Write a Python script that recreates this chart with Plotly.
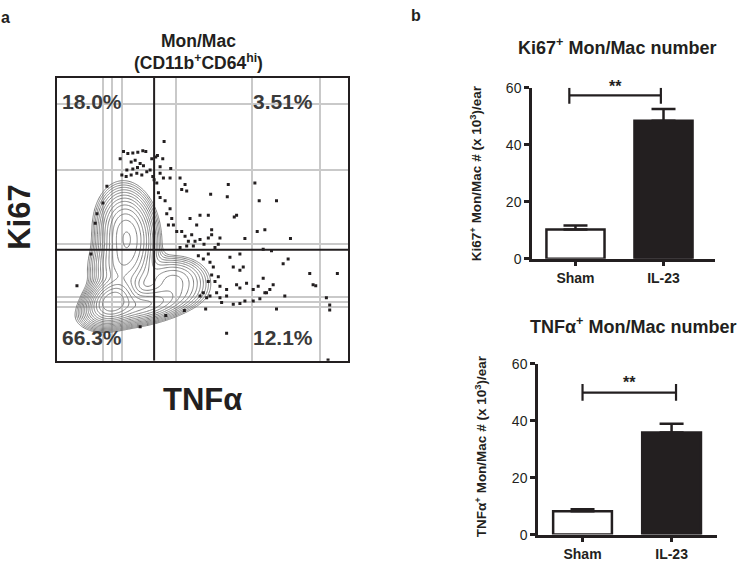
import numpy as np
import plotly.graph_objects as go

W, H = 740, 563
FONT = "Liberation Sans, Arial, sans-serif"
INK = "#231f20"

# ---------------- Panel a: flow cytometry (arbitrary channel units 0-875) ----------------
axis_max = 875
gate_x = 292          # TNFa quadrant gate
gate_y = 343          # Ki67 quadrant gate
grid_x = [139, 166, 196, 358, 586, 790]
grid_y = [793, 589, 361, 196, 181, 166]
quadrant_pct = ["18.0%", "3.51%", "66.3%", "12.1%"]

# density model of the main population (centres / spreads)
comp_mx = [165, 250, 350, 210, 190]
comp_my = [185, 170, 250, 390, 290]
comp_sx = [36, 75, 52, 40, 42]
comp_sy = [33, 30, 36, 64, 48]
comp_rho = [0.25, 0.45, 0.0, -0.1, 0.1]
comp_w = [1.0, 0.40, 0.18, 0.62, 0.30]

# individual outlier events
dot_x = [322, 200, 213, 228, 243, 258, 267, 190, 285, 297, 302, 318, 223, 235, 250, 242, 260, 228,
         210, 195, 208, 223, 240, 255, 270, 280, 288, 292, 300, 310, 342, 310, 320, 340, 370, 385,
         375, 390, 305, 310, 325, 340, 330, 345, 350, 335, 360, 375, 385, 405, 395, 415, 430, 442,
         455, 465, 490, 485, 475, 420, 400, 430, 455, 465, 515, 462, 512, 540, 533, 595, 608, 660,
         602, 625, 565, 702, 370, 390, 410, 150, 138, 120, 115, 102, 60,
         425, 440, 455, 460, 470, 465, 475, 490, 455, 440, 450, 430, 460, 480, 490, 495, 510, 520,
         550, 550, 560, 540, 550, 570, 590, 605, 620, 620, 630, 640, 650, 680, 695, 645, 760, 770,
         778, 843, 810, 820, 820, 530, 550, 590, 610, 625, 660, 685, 447, 383, 327, 250, 510, 815,
         565, 510, 485, 530]
dot_y = [678, 647, 641, 643, 645, 650, 647, 625, 625, 630, 635, 625, 615, 620, 610, 598, 603, 593,
         590, 575, 570, 575, 580, 575, 585, 590, 570, 560, 550, 600, 595, 580, 565, 565, 565, 545,
         530, 525, 520, 505, 495, 470, 455, 440, 420, 420, 400, 400, 385, 390, 370, 370, 375, 360,
         380, 390, 380, 360, 350, 420, 440, 450, 450, 405, 545, 515, 507, 450, 445, 550, 495, 495,
         400, 405, 378, 378, 350, 355, 355, 540, 488, 455, 425, 330, 232,
         325, 315, 330, 305, 290, 265, 245, 230, 245, 210, 195, 200, 200, 210, 195, 180, 200, 320,
         330, 280, 290, 235, 225, 240, 220, 230, 255, 345, 210, 220, 235, 300, 315, 340, 270, 235,
         232, 270, 195, 172, 157, 175, 177, 185, 192, 210, 160, 200, 160, 155, 140, 105, 85, 2,
         185, 220, 260, 290]

# ---------------- Panel b: bar charts ----------------
groups = ["Sham", "IL-23"]
ki67_mean = [10.2, 48.4]
ki67_sem = [1.4, 4.1]
tnf_mean = [8.2, 35.8]
tnf_sem = [0.7, 3.1]
ki67_sig = {"x0": -0.07, "x1": 0.97, "y": 57.3, "lo": 54.4, "hi": 60.0}
tnf_sig = {"x0": 0.0, "x1": 1.05, "y": 49.8, "lo": 47.0, "hi": 52.8}


def px(x):
    return x / W


def py(y):
    return 1 - y / H


fig = go.Figure()

# contour density
gx = np.linspace(0, axis_max, 260)
gy = np.linspace(0, axis_max, 260)
X, Y = np.meshgrid(gx, gy)
Z = np.zeros_like(X)
for mx, my, sx, sy, rho, w in zip(comp_mx, comp_my, comp_sx, comp_sy, comp_rho, comp_w):
    dx = (X - mx) / sx
    dy = (Y - my) / sy
    Z += w * np.exp(-(dx * dx - 2 * rho * dx * dy + dy * dy) / (2 * (1 - rho * rho)))
Z = np.log10(Z / Z.max() + 1e-12)

fig.add_trace(go.Contour(
    x=gx, y=gy, z=Z, xaxis="x", yaxis="y",
    contours=dict(start=-1.75, end=-0.04, size=0.115, coloring="lines"),
    colorscale=[[0, "#808080"], [1, "#808080"]], showscale=False,
    line=dict(width=1), hoverinfo="skip"))

fig.add_trace(go.Scatter(
    x=dot_x, y=dot_y, mode="markers", xaxis="x", yaxis="y",
    marker=dict(symbol="square", size=3, color=INK, line=dict(width=0)),
    showlegend=False, hoverinfo="skip"))

# bars
for mean, sem, xa, ya in [(ki67_mean, ki67_sem, "x2", "y2"), (tnf_mean, tnf_sem, "x3", "y3")]:
    fig.add_trace(go.Bar(
        x=groups, y=mean, xaxis=xa, yaxis=ya, width=0.66,
        marker=dict(color=["white", INK], line=dict(color=INK, width=2.5)),
        error_y=dict(type="data", array=sem, arrayminus=[0, 0], symmetric=False,
                     color=INK, thickness=2.5, width=12),
        showlegend=False))

shapes = []
# quadrant gates
shapes.append(dict(type="line", xref="x", yref="y", x0=gate_x, x1=gate_x, y0=0, y1=axis_max,
                   line=dict(color=INK, width=2), layer="above"))
shapes.append(dict(type="line", xref="x", yref="y", x0=0, x1=axis_max, y0=gate_y, y1=gate_y,
                   line=dict(color=INK, width=2), layer="above"))
# significance brackets
for sig, xa, ya in [(ki67_sig, "x2", "y2"), (tnf_sig, "x3", "y3")]:
    lw = dict(color=INK, width=2.2)
    shapes.append(dict(type="line", xref=xa, yref=ya, x0=sig["x0"], x1=sig["x1"],
                       y0=sig["y"], y1=sig["y"], line=lw))
    for xx in (sig["x0"], sig["x1"]):
        shapes.append(dict(type="line", xref=xa, yref=ya, x0=xx, x1=xx,
                           y0=sig["lo"], y1=sig["hi"], line=lw))

ann = []


def text(x, y, s, size, angle=0, color=INK):
    ann.append(dict(x=px(x), y=py(y), xref="paper", yref="paper", text=s, showarrow=False,
                    xanchor="center", yanchor="middle", textangle=angle,
                    font=dict(family=FONT, size=size, color=color)))


text(5, 10, "<b>a</b>", 16)
text(416, 8, "<b>b</b>", 16)
text(199, 34, "<b>Mon/Mac</b>", 17.5)
text(198, 56, "<b>(CD11b<sup>+</sup>CD64<sup>hi</sup>)</b>", 17.5)
text(20, 216, "<b>Ki67</b>", 31, angle=-90)
text(202, 403, "<b>TNFα</b>", 31)
for (x, y), s in zip([(92, 96), (283, 96), (92, 339), (283, 339)], quadrant_pct):
    text(x, y, "<b>%s</b>" % s, 21, color="#3a3a3a")

text(617, 40, "<b>Ki67<sup>+</sup> Mon/Mac number</b>", 18)
text(633, 327, "<b>TNFα<sup>+</sup> Mon/Mac number</b>", 18)
text(476, 170, "<b>Ki67<sup>+</sup> Mon/Mac # (x 10<sup>3</sup>)/ear</b>", 13.5, angle=-90)
text(481, 451, "<b>TNFα<sup>+</sup> Mon/Mac # (x 10<sup>3</sup>)/ear</b>", 13.5, angle=-90)
text(615, 81, "<b>**</b>", 16)
text(629, 385, "<b>**</b>", 16)

flow_axis = dict(range=[0, axis_max], showline=True, mirror=True, linecolor=INK, linewidth=2,
                 showgrid=True, gridcolor="#c9c9c9", gridwidth=1.5, zeroline=False,
                 ticks="", showticklabels=False, tickmode="array")

bar_y = dict(range=[0, 60], tickvals=[0, 20, 40, 60], showline=True, linecolor=INK, linewidth=2.5,
             ticks="outside", ticklen=5, tickwidth=2.5, tickcolor=INK, showgrid=False,
             zeroline=False, tickfont=dict(family=FONT, size=14, color=INK), tickprefix="<b>")
bar_x = dict(showline=True, linecolor=INK, linewidth=2.5, ticks="outside", ticklen=5,
             tickwidth=2.5, tickcolor=INK, showgrid=False, zeroline=False,
             tickfont=dict(family=FONT, size=14, color=INK), type="category", tickprefix="<b>")

fig.update_layout(
    width=W, height=H, autosize=False, margin=dict(l=0, r=0, t=0, b=0, pad=0),
    paper_bgcolor="white", plot_bgcolor="white", showlegend=False,
    font=dict(family=FONT, color=INK),
    xaxis=dict(flow_axis, domain=[px(57), px(348)], tickvals=grid_x, anchor="y"),
    yaxis=dict(flow_axis, domain=[py(363), py(72)], tickvals=grid_y, anchor="x"),
    xaxis2=dict(bar_x, domain=[px(532), px(715)], range=[-0.494, 1.585], anchor="y2"),
    yaxis2=dict(bar_y, domain=[py(258), py(82)], anchor="x2"),
    xaxis3=dict(bar_x, domain=[px(538), px(717)], range=[-0.5, 1.51], anchor="y3"),
    yaxis3=dict(bar_y, domain=[py(542), py(366)], anchor="x3"),
    shapes=shapes, annotations=ann,
)

fig.write_html("out.html", config={"displayModeBar": False, "responsive": False},
               post_script="document.body.style.margin='0';document.body.style.padding='0';")
